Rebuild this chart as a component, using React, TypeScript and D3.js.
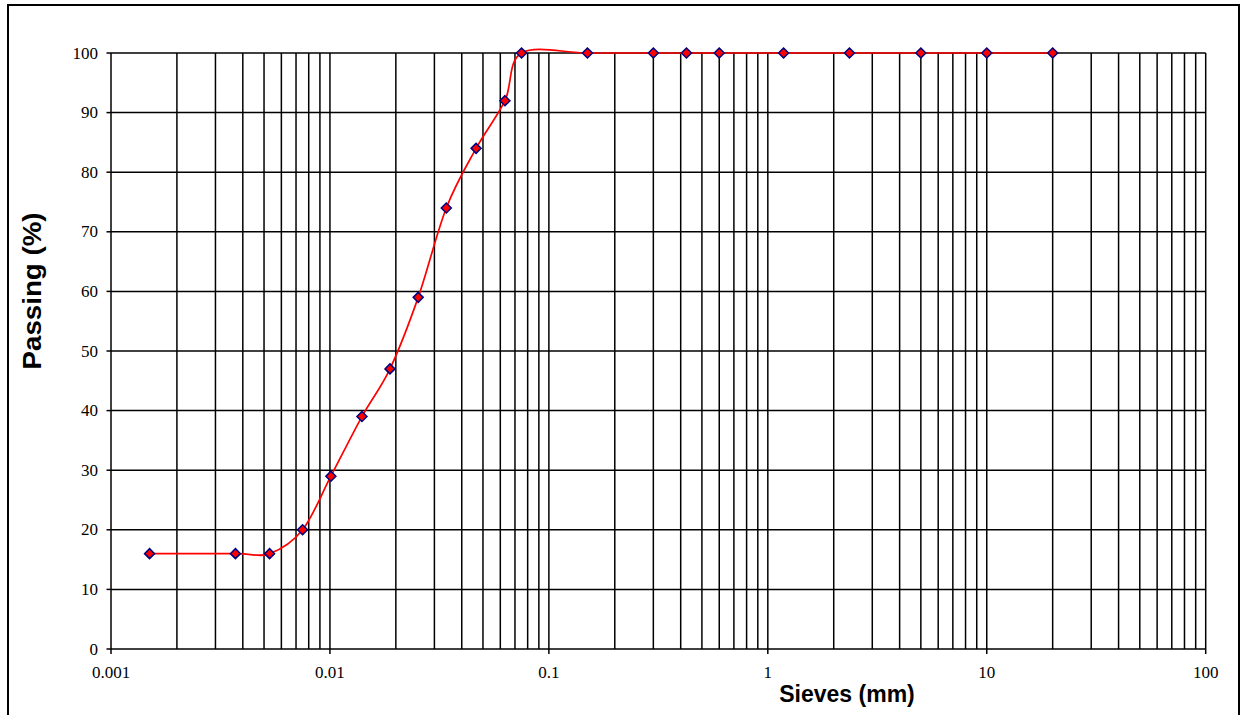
import React from "react";
import * as d3 from "d3";

const sieveSizes = [0.0015, 0.0037, 0.0053, 0.0075, 0.0101, 0.014, 0.0188, 0.0253, 0.034, 0.0465, 0.063, 0.075, 0.15, 0.3, 0.425, 0.6, 1.18, 2.36, 5, 10, 20];
const passing = [16, 16, 16, 20, 29, 39, 47, 59, 74, 84, 92, 100, 100, 100, 100, 100, 100, 100, 100, 100, 100];
const xTickValues = [0.001, 0.01, 0.1, 1, 10, 100];
const xTickLabels = ["0.001", "0.01", "0.1", "1", "10", "100"];
const yTickValues = [0, 10, 20, 30, 40, 50, 60, 70, 80, 90, 100];

const W = 1248;
const H = 715;
const left = 111;
const right = 1205.7;
const top = 53;
const bottom = 649;

export default function App() {
  const x = d3.scaleLog().domain([0.001, 100]).range([left, right]);
  const y = d3.scaleLinear().domain([0, 100]).range([bottom, top]);

  const minor: number[] = [];
  for (let d = -3; d <= 1; d++) {
    for (let k = 1; k <= 9; k++) minor.push(k * Math.pow(10, d));
  }
  minor.push(100);

  const pts: [number, number][] = sieveSizes.map((s, i) => [x(s), y(passing[i])]);
  const line = d3.line().curve(d3.curveCardinal.tension(0))(pts) || "";

  const diamond = (cx: number, cy: number, r: number) =>
    `M${cx},${cy - r}L${cx + r},${cy}L${cx},${cy + r}L${cx - r},${cy}Z`;

  return (
    <svg width={W} height={H} style={{ position: "absolute", left: 0, top: 0 }}>
      <rect x={0} y={0} width={W} height={H} fill="#fff" />
      <rect x={8} y={5} width={1231} height={720} fill="none" stroke="#000" strokeWidth={2} />
      {yTickValues.map((v) => (
        <line key={"h" + v} x1={left} x2={right} y1={y(v)} y2={y(v)} stroke="#000" strokeWidth={1.5} />
      ))}
      {minor.map((v, i) => (
        <line key={"v" + i} x1={x(v)} x2={x(v)} y1={top} y2={bottom} stroke="#000" strokeWidth={1.5} />
      ))}
      {yTickValues.map((v) => (
        <g key={"yt" + v}>
          <line x1={left - 4.5} x2={left} y1={y(v)} y2={y(v)} stroke="#000" strokeWidth={1.5} />
          <text x={98} y={y(v) + 5.5} textAnchor="end" fontFamily="Liberation Serif, Times New Roman, serif" fontSize={17}>
            {v}
          </text>
        </g>
      ))}
      {xTickValues.map((v, i) => (
        <g key={"xt" + v}>
          <line x1={x(v)} x2={x(v)} y1={bottom} y2={bottom + 5} stroke="#000" strokeWidth={1.5} />
          <text x={x(v)} y={678} textAnchor="middle" fontFamily="Liberation Serif, Times New Roman, serif" fontSize={17}>
            {xTickLabels[i]}
          </text>
        </g>
      ))}
      <path d={line} fill="none" stroke="#ff0000" strokeWidth={1.7} />
      {pts.map(([cx, cy], i) => (
        <path key={"m" + i} d={diamond(cx, cy, 5)} fill="#ff0000" stroke="#000080" strokeWidth={1.5} />
      ))}
      <text
        x={847}
        y={702}
        textAnchor="middle"
        fontFamily="Liberation Sans, Arial, sans-serif"
        fontWeight="bold"
        fontSize={23}
      >
        Sieves (mm)
      </text>
      <text
        transform="translate(41,291) rotate(-90)"
        textAnchor="middle"
        fontFamily="Liberation Sans, Arial, sans-serif"
        fontWeight="bold"
        fontSize={26}
        textLength={157}
        lengthAdjust="spacingAndGlyphs"
      >
        Passing (%)
      </text>
    </svg>
  );
}
